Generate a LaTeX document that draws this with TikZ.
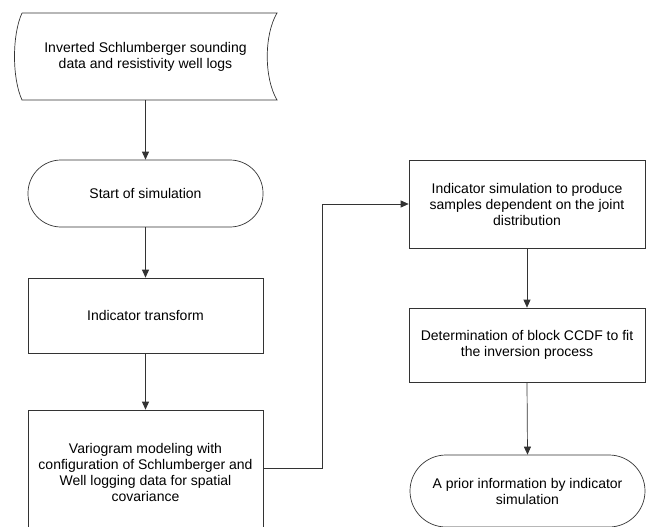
\documentclass[tikz,border=0pt]{standalone}
\usepackage{fontspec}
\setmainfont{Liberation Sans}
\usetikzlibrary{arrows.meta}
\begin{document}
\begin{tikzpicture}[x=1pt,y=-1pt,
  line/.style={draw=black!80,line width=0.7pt},
  arr/.style={line,-{Triangle[length=8pt,width=7pt]}},
  txt/.style={align=center,font=\fontsize{14}{16}\selectfont,inner sep=2pt},
  boxnode/.style={txt,line,rectangle,minimum width=#1},
  stadium/.style={txt,line,rectangle,rounded corners=33pt},
]
\useasboundingbox (0,0) rectangle (651,527);
\fill[white] (0,0) rectangle (651,527);
% stored-data shape
\draw[line] (22,13) -- (277,13) .. controls (264,35) and (264,78) .. (277,100)
  -- (22,100) .. controls (12,78) and (12,35) .. (22,13);
\node[txt,minimum width=250,minimum height=87] (data) at (145.5,56.5)
  {Inverted Schlumberger sounding\\ data and resistivity well logs};
\node[stadium,minimum width=235,minimum height=67] (start) at (145.5,193.5) {Start of simulation};
\node[boxnode=235,minimum height=75] (ind) at (145.5,315.5) {Indicator transform};
\node[boxnode=235,minimum height=125] (var) at (145.5,472.5)
  {Variogram modeling with\\ configuration of Schlumberger and\\ Well logging data for spatial\\ covariance};
\node[boxnode=236,minimum height=88] (isim) at (527,204)
  {Indicator simulation to produce\\ samples dependent on the joint\\ distribution};
\node[boxnode=236,minimum height=74] (det) at (527,345)
  {Determination of block CCDF to fit\\ the inversion process};
\node[txt,line,rectangle,rounded corners=36pt,minimum width=235,minimum height=72] (prior) at (527.5,491)
  {A prior information by indicator\\ simulation};
\draw[arr] (data.south) -- (start.north);
\draw[arr] (start.south) -- (ind.north);
\draw[arr] (ind.south) -- (var.north);
\draw[arr] ([yshift=4.5pt]var.east) -- ++(59,0) |- (isim.west);
\draw[arr] (isim.south) -- (det.north);
\draw[arr] (det.south) -- (prior.north);
\end{tikzpicture}
\end{document}
